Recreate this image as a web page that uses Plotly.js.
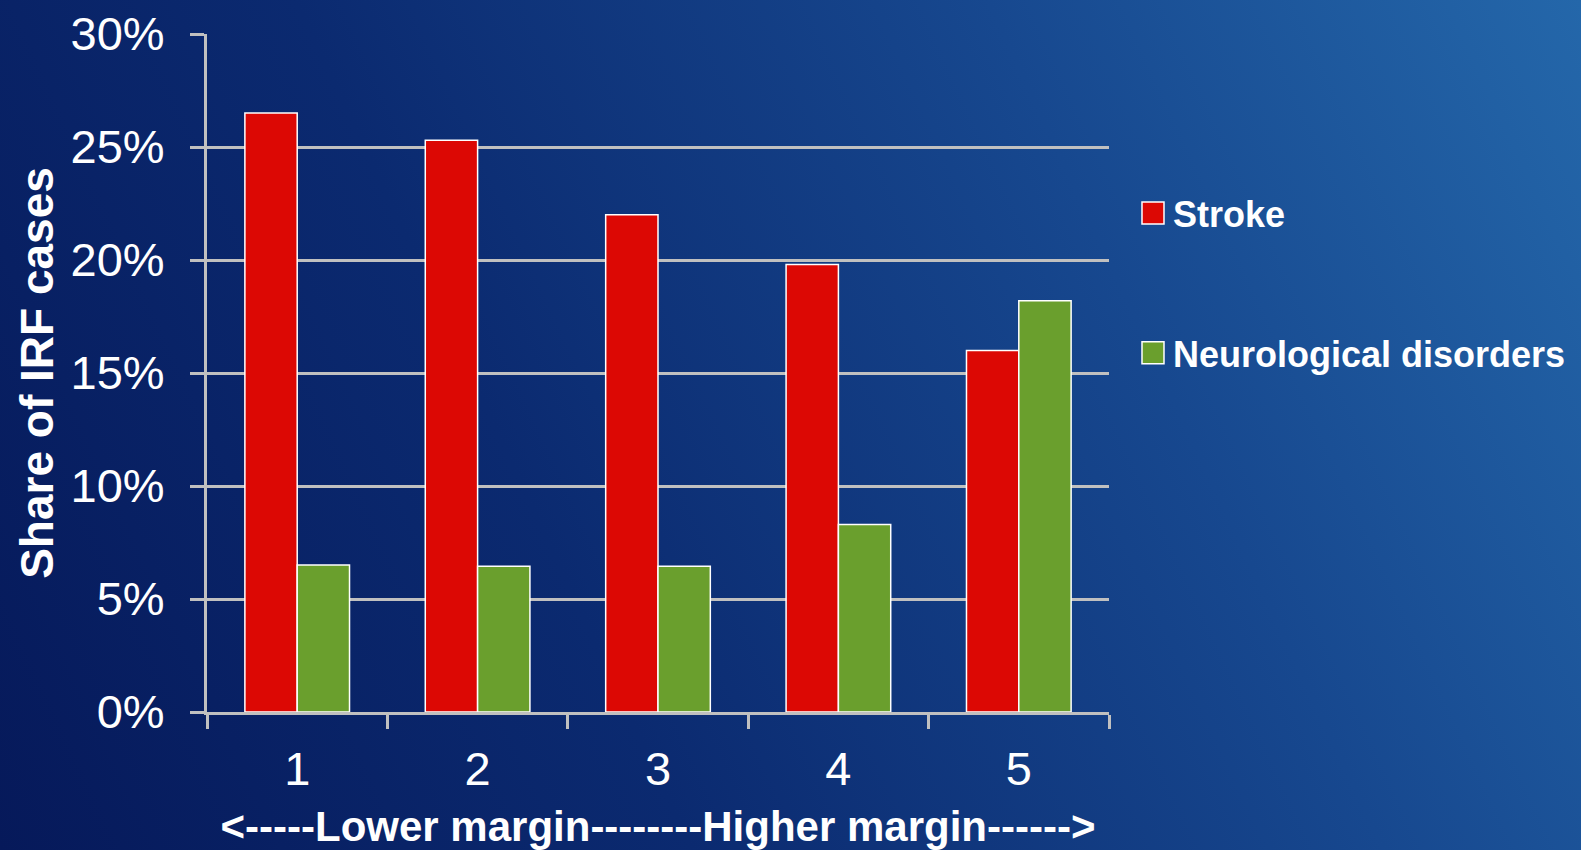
<!DOCTYPE html>
<html>
<head>
<meta charset="utf-8">
<script src="https://cdn.plot.ly/plotly-3.0.1.min.js"></script>
<style>
  html, body { margin: 0; padding: 0; width: 1581px; height: 850px; overflow: hidden; }
  body { background: linear-gradient(65deg, #06195a 0%, #0b2a70 35%, #17488f 70%, #2467aa 100%); }
  #chart { width: 1581px; height: 850px; }
</style>
</head>
<body>
<div id="chart"></div>
<script>
const categories = ['1', '2', '3', '4', '5'];
const strokeShare = [26.5, 25.3, 22.0, 19.8, 16.0];
const neuroShare = [6.5, 6.45, 6.45, 8.3, 18.2];
const yTickVals = [0, 5, 10, 15, 20, 25, 30];
const yTickText = ['0%', '5%', '10%', '15%', '20%', '25%', '30%'];
const seriesNames = ['Stroke', 'Neurological disorders'];
const xTitle = '<-----Lower margin--------Higher margin------>';
const yTitle = 'Share of IRF cases';

const FONT = '"Liberation Sans", Arial, sans-serif';

const traces = [
  {
    type: 'bar', name: seriesNames[0], x: categories, y: strokeShare,
    legendgroup: 'a',
    marker: { color: '#dc0804', line: { color: '#ffffff', width: 1.5 } },
    hoverinfo: 'none'
  },
  {
    type: 'bar', name: seriesNames[1], x: categories, y: neuroShare,
    legendgroup: 'b',
    marker: { color: '#6a9f2d', line: { color: '#ffffff', width: 1.5 } },
    hoverinfo: 'none'
  }
];

const layout = {
  width: 1581, height: 850,
  paper_bgcolor: 'rgba(0,0,0,0)',
  plot_bgcolor: 'rgba(0,0,0,0)',
  margin: { l: 207, r: 472, t: 34, b: 138, autoexpand: false },
  barmode: 'group',
  bargap: 0.42,
  bargroupgap: 0,
  font: { family: FONT, color: '#ffffff' },
  xaxis: {
    type: 'category',
    tickson: 'boundaries',
    ticks: 'outside', ticklen: 14, tickwidth: 3, tickcolor: '#c0c0c0',
    showline: true, linecolor: '#c0c0c0', linewidth: 3,
    showgrid: false,
    tickfont: { family: FONT, size: 47, color: '#ffffff' },
    ticklabelstandoff: 14,
    title: { text: xTitle, font: { family: FONT, size: 42, color: '#ffffff', weight: 'bold' }, standoff: 21 },
    automargin: true
  },
  yaxis: {
    range: [0, 30],
    tickvals: yTickVals, ticktext: yTickText,
    ticks: 'outside', ticklen: 14, tickwidth: 3, tickcolor: '#c0c0c0',
    showline: true, linecolor: '#c0c0c0', linewidth: 3,
    showgrid: true, gridcolor: '#c0c0c0', gridwidth: 3,
    zeroline: false,
    tickfont: { family: FONT, size: 47, color: '#ffffff' },
    ticklabelstandoff: 16,
    title: { text: yTitle, font: { family: FONT, size: 46, color: '#ffffff', weight: 'bold' }, standoff: 3 },
    automargin: true
  },
  showlegend: true,
  legend: {
    x: 1.0266, xanchor: 'left',
    y: 0.78, yanchor: 'top',
    bgcolor: 'rgba(0,0,0,0)',
    font: { family: FONT, size: 36, color: '#ffffff', weight: 'bold' },
    tracegroupgap: 90,
    traceorder: 'grouped'
  }
};

Plotly.newPlot('chart', traces, layout, { staticPlot: true, displayModeBar: false }).then(function () {
  document.querySelectorAll('#chart .legendpoints path').forEach(function (p) {
    p.setAttribute('d', 'M11,11H-11V-11H11Z');
  });
});
</script>
</body>
</html>
